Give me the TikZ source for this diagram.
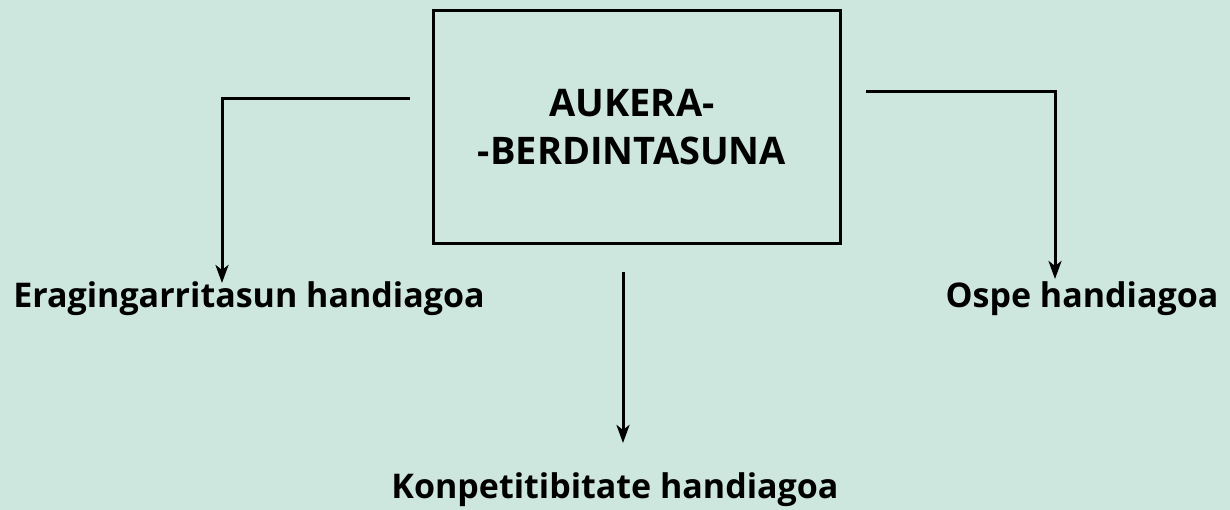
\documentclass[tikz,border=0pt]{standalone}
\usepackage{fontspec}
\setmainfont{Open Sans}
\usetikzlibrary{arrows.meta}
\definecolor{bgmint}{RGB}{205,230,222}
\begin{document}
\begin{tikzpicture}[x=1pt,y=-1pt]
      \tikzstyle{every node}+=[inner sep=0pt]
      \tikzstyle{lbl}=[font=\fontsize{34}{40}\selectfont\bfseries, anchor=base]
      \tikzstyle{arr}=[black, line width=3pt, -{Stealth[length=18pt,width=13pt,inset=5pt]}]
      \fill [bgmint] (0,0) rectangle (1230,510);
      \useasboundingbox (0,0) rectangle (1230,510);
      \draw [black, line width=3pt] (433.5,10.5) rectangle (840.5,243.5);
      \node [lbl, font=\fontsize{38}{40}\selectfont\bfseries] (aukera) at (632,117) {AUKERA-};
      \node [lbl, font=\fontsize{38}{40}\selectfont\bfseries] (berdin) at (632,165) {-BERDINTASUNA};
      \node [lbl] (erag) at (249,308) {Eragingarritasun handiagoa};
      \node [lbl] (ospe) at (1082,308) {Ospe handiagoa};
      \node [lbl] (konp) at (615,498) {Konpetitibitate handiagoa};
      \coordinate (lstart) at (410,99);
      \coordinate (lend) at (222,283);
      \coordinate (rstart) at (866,92);
      \coordinate (rend) at (1055,279);
      \coordinate (mstart) at (623,272);
      \coordinate (mend) at (623,443);
      \draw [arr] (lstart) -| (lend);
      \draw [arr] (rstart) -| (rend);
      \draw [arr] (mstart) -- (mend);
\end{tikzpicture}
\end{document}
